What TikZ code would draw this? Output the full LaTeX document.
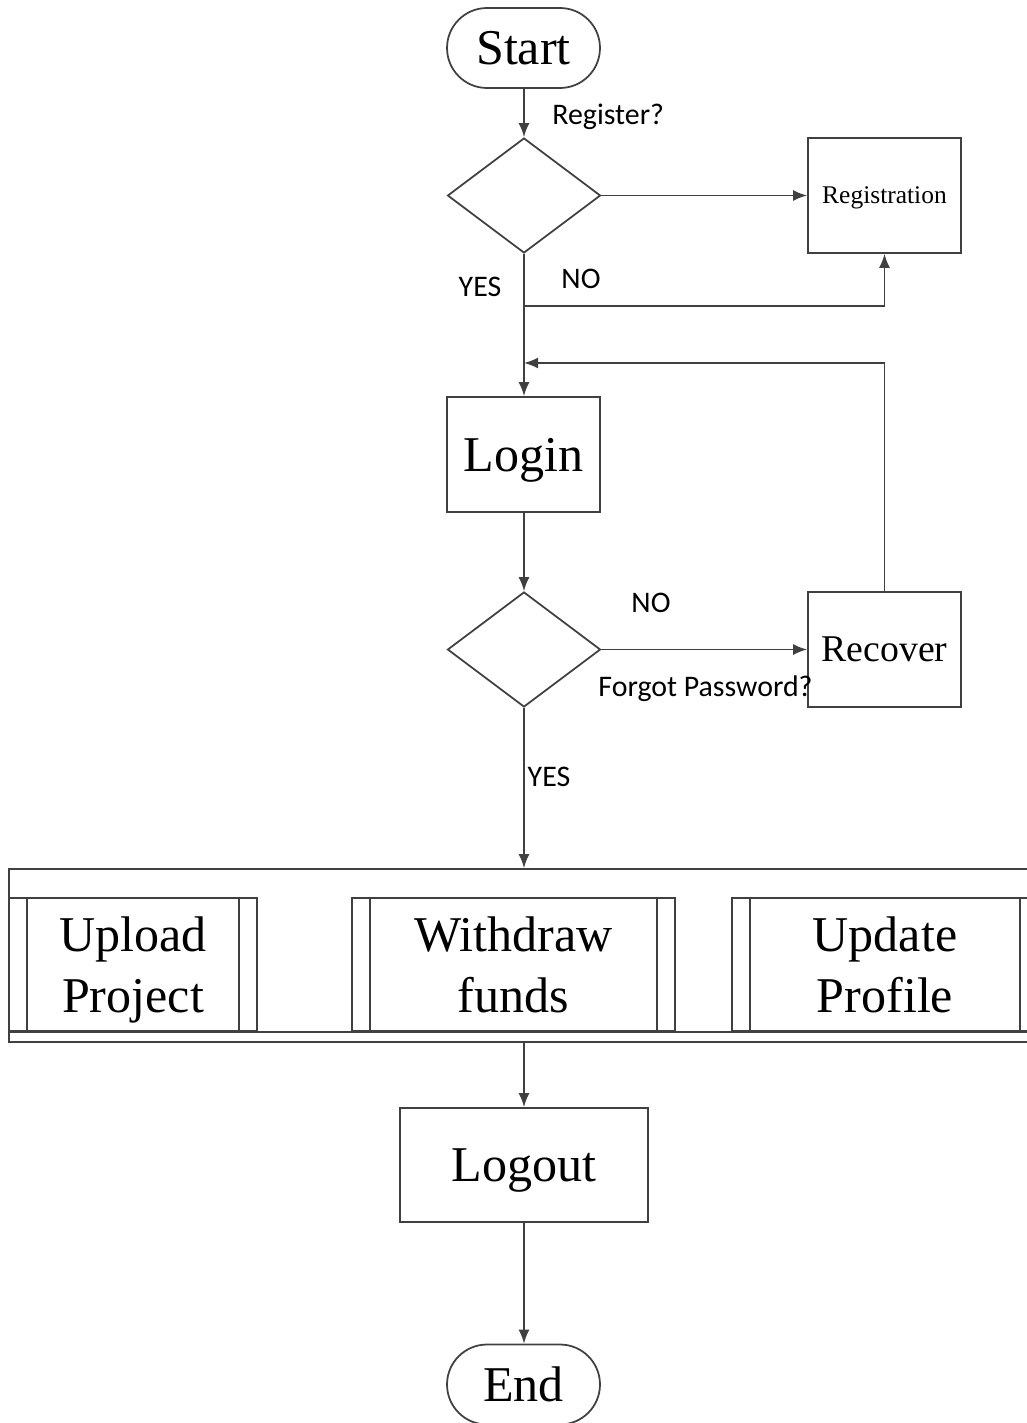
\documentclass[tikz,border=0pt]{standalone}
\usepackage{fontspec}
\setmainfont{Liberation Serif}
\newfontfamily\lblfont{Carlito}
\usetikzlibrary{shapes.geometric}
\usetikzlibrary{arrows.meta}

\tikzset{
  line/.style={draw=black!75, line width=1pt},
  arr/.style={line, -{Latex[length=2.8mm,width=2.2mm]}},
  term/.style={line, rectangle, rounded corners=0.8cm, minimum width=3.06cm, minimum height=1.6cm, inner sep=0pt, text depth=0pt, font=\fontsize{28.5}{34}\selectfont},
  dec/.style={line, diamond, minimum width=3.06cm, minimum height=2.3cm, inner sep=0pt},
  proc/.style={line, rectangle, minimum width=3.06cm, minimum height=2.3cm, inner sep=0pt, text depth=0pt, font=\fontsize{28.5}{34}\selectfont},
  task/.style={proc, minimum height=2.66cm, align=center, font=\fontsize{28.5}{34.5}\selectfont},
  lbl/.style={font=\lblfont\fontsize{17}{20}\selectfont, inner sep=0pt},
}

\begin{document}
\begin{tikzpicture}[x=0.02cm,y=-0.02cm]
\useasboundingbox (0,0) rectangle (1027,1423);
\clip (0,0) rectangle (1027,1423);

% top part
\node[term] (start) at (523.5,48) {Start};
\node[dec] (reg?) at (524,195.5) {};
\node[proc, font=\fontsize{14.5}{17}\selectfont] (reg) at (884.5,195.5) {Registration};
\node[proc] (login) at (523.5,454.5) {Login};
\node[dec] (forgot?) at (524,649.5) {};
\node[proc, font=\fontsize{21.5}{25}\selectfont] (rec) at (884.5,649.5) {Recover};

% tasks
\node[line, minimum width=20.62cm, minimum height=3.46cm, inner sep=0pt] (panel) at (524.5,955.5) {};
\node[task, minimum width=4.96cm] (upload) at (133,964.5) {Upload\\Project};
\node[task, minimum width=6.46cm] (withdraw) at (513.5,964.5) {Withdraw\\funds};
\node[task, minimum width=6.12cm] (update) at (885,964.5) {Update\\Profile};
\draw[line] (panel.west |- upload.south) -- (panel.east |- upload.south);
\foreach \t in {upload,withdraw,update}{
  \draw[line] ([xshift=0.38cm]\t.north west) -- ([xshift=0.38cm]\t.south west);
  \draw[line] ([xshift=-0.38cm]\t.north east) -- ([xshift=-0.38cm]\t.south east);
}

% bottom part
\node[proc, minimum width=4.96cm, minimum height=2.28cm] (logout) at (524,1165) {Logout};
\node[term] (end) at (523.5,1384.5) {End};

% labels
\node[lbl, anchor=west] (l1) at (552,117) {Register?};
\node[lbl] (l2) at (480,287) {YES};
\node[lbl] (l3) at (581,279) {NO};
\node[lbl] (l4) at (651,603) {NO};
\node[lbl] (l5) at (705.5,689) {Forgot Password?};
\node[lbl] (l6) at (549,777) {YES};

% connectors
\coordinate (j1) at (524,306);
\coordinate (j2) at (524,363);
\draw[arr] (start.south -| reg?.north) -- (reg?.north);
\draw[arr] (reg?.east) -- (reg.west);
\draw[arr] (reg?.south) -- (login.north -| reg?.south);
\draw[arr] (j1) -| (reg.south);
\draw[arr] (rec.north) |- (j2);
\draw[arr] (login.south -| forgot?.north) -- (forgot?.north);
\draw[arr] (forgot?.east) -- (rec.west);
\draw[arr] (forgot?.south) -- (forgot?.south |- panel.north);
\draw[arr] (logout.north |- panel.south) -- (logout.north);
\draw[arr] (logout.south) -- (logout.south |- end.north);

\end{tikzpicture}
\end{document}
